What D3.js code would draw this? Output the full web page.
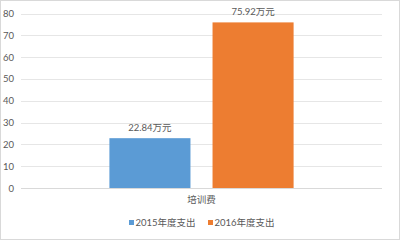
<!DOCTYPE html>
<html>
<head>
<meta charset="utf-8">
<script src="https://cdn.jsdelivr.net/npm/d3@7"></script>
<style>
  body { margin: 0; background: #fff; }
  text { font-family: Lato, "Noto Sans CJK SC", sans-serif; fill: #595959; }
</style>
</head>
<body>
<div id="chart"></div>
<script>
const categories = ["培训费"];
const seriesNames = ["2015年度支出", "2016年度支出"];
const seriesColors = ["#5b9bd5", "#ed7d31"];
const values = [[22.84], [75.92]];
const labelSuffix = "万元";
const yTicks = [0, 10, 20, 30, 40, 50, 60, 70, 80];

const width = 400, height = 240;
const plot = { left: 21, right: 382, top: 13.5, bottom: 188 };

const svg = d3.select("#chart").append("svg")
    .attr("width", width)
    .attr("height", height);

svg.append("rect")
    .attr("x", 0.5).attr("y", 0.5)
    .attr("width", width - 1).attr("height", height - 1)
    .attr("fill", "#fff")
    .attr("stroke", "#d9d9d9");

const y = d3.scaleLinear().domain([0, 80]).range([plot.bottom, plot.top]);

const x0 = d3.scaleBand()
    .domain(categories)
    .range([plot.left, plot.right])
    .paddingInner(0)
    .paddingOuter(0.48);

const x1 = d3.scaleBand()
    .domain(seriesNames)
    .range([0, x0.bandwidth()])
    .paddingInner(0.214)
    .paddingOuter(0);

// gridlines
svg.append("g")
    .selectAll("line")
    .data(yTicks)
    .join("line")
    .attr("x1", plot.left).attr("x2", plot.right)
    .attr("y1", d => Math.round(y(d)) + 0.5)
    .attr("y2", d => Math.round(y(d)) + 0.5)
    .attr("stroke", d => d === 0 ? "#d9d9d9" : "#e6e6e6");

// y axis labels
const yAxis = svg.append("g")
    .attr("transform", `translate(${plot.left - 7},0)`)
    .call(d3.axisLeft(y).tickValues(yTicks).tickSize(0).tickPadding(0));
yAxis.select(".domain").remove();
yAxis.selectAll("text")
    .style("font-size", "9.5px")
    .attr("fill", "#595959")
    .style("font-family", "Lato, 'Noto Sans CJK SC', sans-serif");

// bars
seriesNames.forEach((name, si) => {
    const g = svg.append("g");
    g.selectAll("rect")
        .data(categories)
        .join("rect")
        .attr("x", c => x0(c) + x1(name))
        .attr("y", (c, ci) => y(values[si][ci]))
        .attr("width", x1.bandwidth())
        .attr("height", (c, ci) => y(0) - y(values[si][ci]))
        .attr("fill", seriesColors[si]);

    g.selectAll("text")
        .data(categories)
        .join("text")
        .attr("x", c => x0(c) + x1(name) + x1.bandwidth() / 2)
        .attr("y", (c, ci) => y(values[si][ci]) - 7)
        .attr("text-anchor", "middle")
        .style("font-size", "9.5px")
        .text((c, ci) => values[si][ci].toFixed(2) + labelSuffix);
});

// category label
svg.append("g")
    .selectAll("text")
    .data(categories)
    .join("text")
    .attr("x", c => x0(c) + x0.bandwidth() / 2)
    .attr("y", plot.bottom + 15)
    .attr("text-anchor", "middle")
    .style("font-size", "9.5px")
    .text(c => c);

// legend
const legendX = [129, 208];
const legend = svg.append("g");
seriesNames.forEach((name, i) => {
    const g = legend.append("g")
        .attr("transform", `translate(${legendX[i]}, 220)`);
    g.append("rect")
        .attr("width", 5).attr("height", 5)
        .attr("fill", seriesColors[i]);
    g.append("text")
        .attr("x", 6.5)
        .attr("y", 6)
        .style("font-size", "9.5px")
        .text(name);
});
</script>
</body>
</html>
